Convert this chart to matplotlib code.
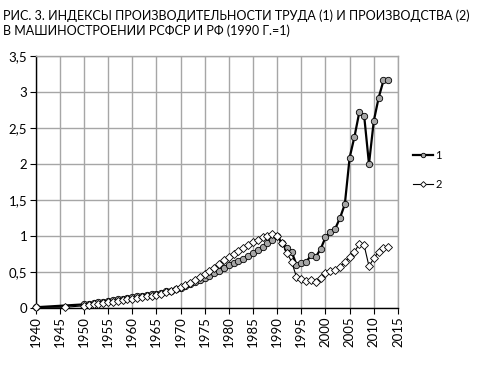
import matplotlib.pyplot as plt
import numpy as np

plt.rcParams['font.family'] = ['Lato', 'DejaVu Sans']

years_1 = [1940] + list(range(1950, 2014))
prod_labour = [0.01,
               0.05, 0.06, 0.07, 0.08, 0.09, 0.10, 0.11, 0.12, 0.13, 0.14,
               0.15, 0.16, 0.17, 0.18, 0.19, 0.20, 0.21, 0.23, 0.24, 0.26,
               0.28, 0.30, 0.33, 0.36, 0.39, 0.42, 0.45, 0.49, 0.52, 0.56,
               0.60, 0.62, 0.65, 0.68, 0.72, 0.76, 0.80, 0.85, 0.90, 0.95,
               1.00, 0.90, 0.83, 0.78, 0.60, 0.62, 0.64, 0.73, 0.71, 0.82,
               0.98, 1.06, 1.10, 1.25, 1.44, 2.09, 2.38, 2.72, 2.67, 2.00,
               2.60, 2.92, 3.16, 3.16]

years_2 = [1940, 1946] + list(range(1950, 2014))
production = [0.01, 0.01,
              0.03, 0.04, 0.05, 0.06, 0.07, 0.08, 0.09, 0.10, 0.11, 0.12,
              0.13, 0.14, 0.15, 0.16, 0.17, 0.18, 0.20, 0.22, 0.24, 0.26,
              0.29, 0.32, 0.35, 0.39, 0.43, 0.47, 0.52, 0.56, 0.61, 0.66,
              0.71, 0.75, 0.79, 0.83, 0.87, 0.91, 0.95, 0.98, 1.00, 1.03,
              1.00, 0.90, 0.77, 0.64, 0.43, 0.40, 0.38, 0.39, 0.36, 0.41,
              0.48, 0.51, 0.53, 0.57, 0.64, 0.71, 0.78, 0.89, 0.87, 0.58,
              0.69, 0.78, 0.84, 0.85]

x_ticks = list(range(1940, 2016, 5))
y_ticks = [0, 0.5, 1, 1.5, 2, 2.5, 3, 3.5]
y_labels = ['0', '0,5', '1', '1,5', '2', '2,5', '3', '3,5']

fig = plt.figure(figsize=(4.78, 3.65), dpi=100)
ax = fig.add_axes([0.0743, 0.1562, 0.7583, 0.6904])

ax.plot(years_1, prod_labour, '-', color='black', lw=1.6, clip_on=False,
        marker='o', ms=4.6, mfc='#a6a6a6', mec='black', mew=0.6, label='1', zorder=3)
ax.plot(years_2, production, '-', color='black', lw=0.8, clip_on=False,
        marker='D', ms=4.2, mfc='white', mec='black', mew=0.6, label='2', zorder=4)

ax.set_xlim(1940, 2015)
ax.set_ylim(0, 3.5)
ax.set_xticks(x_ticks)
ax.set_xticklabels([str(t) for t in x_ticks], rotation=90, fontsize=9.5)
ax.set_yticks(y_ticks)
ax.set_yticklabels(y_labels, fontsize=9.5)
ax.grid(True, color='#a6a6a6', lw=1.0)
ax.set_axisbelow(True)

for s in ['top', 'right']:
    ax.spines[s].set_color('#a6a6a6')
    ax.spines[s].set_linewidth(1.0)
for s in ['left', 'bottom']:
    ax.spines[s].set_color('black')
    ax.spines[s].set_linewidth(1.0)
ax.tick_params(axis='both', direction='out', length=4, width=0.8, pad=2, colors='black')

leg = ax.legend(loc='center left', bbox_to_anchor=(0.843, 0.535), bbox_transform=fig.transFigure,
                frameon=False, fontsize=8, handlelength=1.8, handletextpad=0.2,
                labelspacing=1.6, markerscale=0.7)

fig.text(0.006, 0.975, 'РИС. 3. ИНДЕКСЫ ПРОИЗВОДИТЕЛЬНОСТИ ТРУДА (1) И ПРОИЗВОДСТВА (2)\n'
         'В МАШИНОСТРОЕНИИ РСФСР И РФ (1990 Г.=1)',
         ha='left', va='top', fontsize=9.0, linespacing=1.3)

fig.savefig('out.png', dpi=100)
